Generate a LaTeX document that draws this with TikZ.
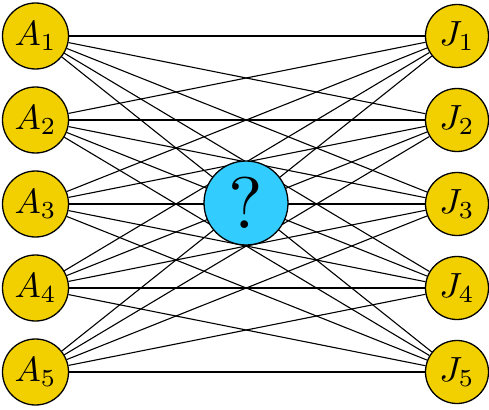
\documentclass[tikz,border=0pt]{standalone}
\usepackage{graphicx}
\definecolor{gold}{RGB}{242,208,0}
\definecolor{sky}{RGB}{51,204,255}
\newcommand{\bigtxt}[1]{\scalebox{3.5}{#1}}
\newcommand{\hugetxt}[1]{\scalebox{7.3}{#1}}
\tikzset{
  anode/.style={circle,draw=black,line width=1.3pt,fill=gold,minimum size=66pt,inner sep=0pt},
  jnode/.style={circle,draw=black,line width=1.3pt,fill=gold,minimum size=63pt,inner sep=0pt},
  qnode/.style={circle,draw=black,line width=1.3pt,fill=sky,minimum size=84pt,inner sep=0pt},
  link/.style={line width=1.1pt,black}
}
\begin{document}
\begin{tikzpicture}[x=1pt,y=-1pt]
\useasboundingbox (0,0) rectangle (489,409);
\foreach \i/\y in {1/36,2/120,3/204,4/288,5/372}{
  \node[anode] (A\i) at (35.5,\y) {\bigtxt{$A_{\i}$}};
  \node[jnode] (J\i) at (457,\y) {\bigtxt{$J_{\i}$}};
}
\foreach \i in {1,...,5}{
  \foreach \j in {1,...,5}{
    \draw[link] (A\i) -- (J\j);
  }
}
\node[qnode] (Q) at (246,203) {\hugetxt{?}};
\end{tikzpicture}
\end{document}
